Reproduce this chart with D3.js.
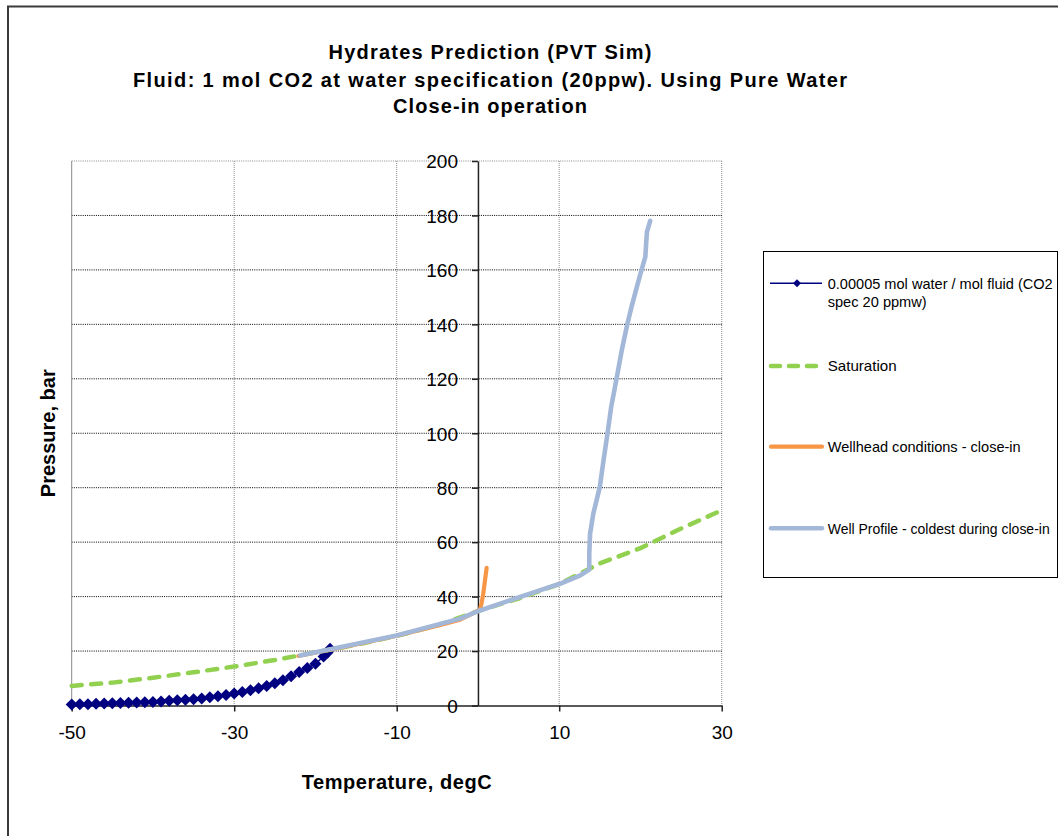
<!DOCTYPE html>
<html>
<head>
<meta charset="utf-8">
<script src="https://cdn.jsdelivr.net/npm/d3@7"></script>
<style>
  body { margin: 0; background: #fff; }
  svg { display: block; font-family: "Liberation Sans", Arial, sans-serif; }
</style>
</head>
<body>
<div class="graph"></div>
<script>
//Hydrate curve, 0.00005 mol water / mol fluid
const hydrateT = [-50, -49, -48, -47, -46, -45, -44, -43, -42, -41, -40, -39, -38, -37, -36, -35, -34, -33,
                  -32, -31, -30, -29, -28, -27, -26, -25, -24, -23, -22, -21, -20, -19, -18.5, -18.2];
const hydrateP = [0.4, 0.45, 0.5, 0.6, 0.7, 0.8, 0.9, 1.0, 1.1, 1.2, 1.3, 1.5, 1.7, 1.9, 2.1, 2.3, 2.6, 3.0,
                  3.4, 3.9, 4.4, 5.0, 5.6, 6.3, 7.2, 8.2, 9.3, 10.7, 12.3, 13.8, 15.3, 18.0, 19.5, 20.8];

//Saturation curve
const satT = [-50, -45, -40, -35, -30, -25, -20, -15, -10, -5, 0, 5, 10, 15, 20, 25, 30];
const satP = [7.2, 8.4, 10.2, 12.2, 14.3, 16.7, 19.5, 22.3, 25.6, 29.4, 34.7, 39.3, 44.6, 52.2, 57.8, 65.0, 71.7];

//Wellhead conditions - close-in
const wellheadT = [-22.1, -15, -10, -5, -2.2, -0.57, 0.25, 0.45, 0.65, 1.07];
const wellheadP = [18.2, 22.4, 25.6, 29.3, 31.5, 33.9, 35.2, 37.6, 41, 50.6];

//Well profile - coldest during close-in
const profileT = [-21.9, -10, -2.2, 0.25, 7.6, 10.1, 12.6, 13.7, 13.7, 13.8, 14.2, 15.0, 15.4, 16.0,
                  16.4, 17.1, 17.7, 18.4, 18.9, 19.9, 20.6, 20.7, 20.8, 21.2];
const profileP = [18.4, 25.7, 31.9, 34.9, 42.3, 44.7, 47.8, 49.9, 55.8, 63.1, 70.5, 80.3, 88.9, 101.1,
                  109.7, 120.7, 130.5, 140.3, 146.4, 157.5, 164.8, 169.7, 174, 178];

//Axis ticks
const xTicks = [-50, -30, -10, 10, 30];
const yTicks = [0, 20, 40, 60, 80, 100, 120, 140, 160, 180, 200];

const titleLines = ["Hydrates Prediction  (PVT Sim)",
                    "Fluid: 1 mol CO2 at water specification  (20ppw).  Using Pure Water",
                    "Close-in operation"];
const legendNames = ["0.00005 mol water / mol fluid (CO2", "Saturation",
                     "Wellhead conditions - close-in", "Well Profile - coldest during close-in"];

let WIDTH = 1058,
    HEIGHT = 836,
    LEFT = 71.7,
    RIGHT = 721.7,
    TOP = 161,
    BOTTOM = 705.5;

let svg = d3.select(".graph")
    .append("svg")
    .attr("width", WIDTH)
    .attr("height", HEIGHT);

svg.append("rect").attr("width", WIDTH).attr("height", HEIGHT).attr("fill", "#fff");

//Chart border (runs off the right and bottom of the picture)
svg.append("rect")
    .attr("x", 8).attr("y", 6.5)
    .attr("width", 1200).attr("height", 1000)
    .attr("fill", "none")
    .attr("stroke", "#3a3a3a")
    .attr("stroke-width", 2);

//Title
const titleW = [323, 714, 194];
const titleY = [59.3, 86.5, 113];
svg.selectAll(".title")
    .data(titleLines)
    .enter()
    .append("text")
    .attr("x", 490)
    .attr("y", (d, i) => titleY[i])
    .attr("text-anchor", "middle")
    .attr("font-size", 20)
    .attr("font-weight", "bold")
    .attr("textLength", (d, i) => titleW[i])
    .attr("lengthAdjust", "spacing")
    .text(d => d);

let xScale = d3.scaleLinear().domain([-50, 30]).range([LEFT, RIGHT]);
let yScale = d3.scaleLinear().domain([0, 200]).range([BOTTOM, TOP]);

//Gridlines
svg.append("g")
    .selectAll("line")
    .data(xTicks.slice(1))
    .enter()
    .append("line")
    .attr("x1", d => xScale(d)).attr("x2", d => xScale(d))
    .attr("y1", TOP).attr("y2", BOTTOM)
    .attr("stroke", "#8a8a8a")
    .attr("stroke-dasharray", "1,1");

svg.append("g")
    .selectAll("line")
    .data(yTicks.slice(1))
    .enter()
    .append("line")
    .attr("x1", LEFT).attr("x2", RIGHT)
    .attr("y1", d => yScale(d)).attr("y2", d => yScale(d))
    .attr("stroke", d => d === 200 ? "#8a8a8a" : "#000")
    .attr("stroke-dasharray", "1,1.2");

//left edge of plot area
svg.append("line")
    .attr("x1", LEFT).attr("x2", LEFT)
    .attr("y1", TOP).attr("y2", BOTTOM)
    .attr("stroke", "#8a8a8a");

//Axes
svg.append("g")
    .attr("transform", `translate(0, ${BOTTOM})`)
    .call(d3.axisBottom(xScale).tickValues(xTicks).tickFormat(d => String(d))
        .tickSize(6).tickPadding(14).tickSizeOuter(0))
    .call(g => {
        g.select(".domain").attr("stroke", "#222").attr("stroke-width", 1.5);
        g.selectAll(".tick line").attr("stroke", "#222").attr("stroke-width", 1.5);
        g.selectAll("text").attr("font-size", 19).attr("font-family", "Liberation Sans, Arial").attr("fill", "#000");
    });

svg.append("g")
    .attr("transform", `translate(${xScale(0)}, 0)`)
    .call(d3.axisLeft(yScale).tickValues(yTicks).tickFormat(d => String(d))
        .tickSize(6).tickPadding(14).tickSizeOuter(0))
    .call(g => {
        g.select(".domain").attr("stroke", "#222").attr("stroke-width", 1.5);
        g.selectAll(".tick line").attr("stroke", "#222").attr("stroke-width", 1.5);
        g.selectAll("text").attr("font-size", 19).attr("font-family", "Liberation Sans, Arial")
            .attr("fill", "#000").attr("dy", "0.36em");
    });

//Axis titles
svg.append("text")
    .attr("x", (LEFT + RIGHT) / 2)
    .attr("y", 789)
    .attr("text-anchor", "middle")
    .attr("font-size", 20)
    .attr("font-weight", "bold")
    .attr("textLength", 190)
    .text("Temperature, degC");

svg.append("text")
    .attr("transform", `translate(55, ${(TOP + BOTTOM) / 2}) rotate(-90)`)
    .attr("text-anchor", "middle")
    .attr("font-size", 20)
    .attr("font-weight", "bold")
    .text("Pressure, bar");

//Series
const toPoints = (ts, ps) => ts.map((t, i) => ({t: t, p: ps[i]}));
let line = d3.line().x(d => xScale(d.t)).y(d => yScale(d.p));
let diamond = d3.symbol().type(d3.symbolSquare).size(72);
let smallDiamond = d3.symbol().type(d3.symbolSquare).size(32);

let hydrate = toPoints(hydrateT, hydrateP);
svg.append("path")
    .datum(hydrate)
    .attr("d", line)
    .attr("fill", "none")
    .attr("stroke", "#000080")
    .attr("stroke-width", 1.5);

svg.selectAll(".diamond")
    .data(hydrate)
    .enter()
    .append("path")
    .attr("d", diamond)
    .attr("transform", d => `translate(${xScale(d.t)}, ${yScale(d.p)}) rotate(45)`)
    .attr("fill", "#000080");

svg.append("path")
    .datum(toPoints(satT, satP))
    .attr("d", line)
    .attr("fill", "none")
    .attr("stroke", "#92d050")
    .attr("stroke-width", 4.5)
    .attr("stroke-linecap", "round")
    .attr("stroke-dasharray", "10,9.5");

svg.append("path")
    .datum(toPoints(wellheadT, wellheadP))
    .attr("d", line)
    .attr("fill", "none")
    .attr("stroke", "#f79646")
    .attr("stroke-width", 4.2)
    .attr("stroke-linecap", "round")
    .attr("stroke-linejoin", "round");

svg.append("path")
    .datum(toPoints(profileT, profileP))
    .attr("d", line)
    .attr("fill", "none")
    .attr("stroke", "#a3b7d8")
    .attr("stroke-width", 4.6)
    .attr("stroke-linecap", "round")
    .attr("stroke-linejoin", "round");

//Legend
let legend = svg.append("g");
legend.append("rect")
    .attr("x", 763.5).attr("y", 251.5)
    .attr("width", 294).attr("height", 326)
    .attr("fill", "#fff")
    .attr("stroke", "#000");

const legendY = [283.3, 366, 446.7, 528.3];
const legendW = [225, 69, 193, 222];
legend.selectAll(".ltext")
    .data(legendNames)
    .enter()
    .append("text")
    .attr("x", 827.7)
    .attr("y", (d, i) => legendY[i])
    .attr("dy", "0.36em")
    .attr("font-size", 15)
    .attr("textLength", (d, i) => legendW[i])
    .attr("lengthAdjust", "spacingAndGlyphs")
    .text(d => d);

legend.append("text")
    .attr("x", 827.7)
    .attr("y", 301.7)
    .attr("dy", "0.36em")
    .attr("font-size", 15)
    .attr("textLength", 99)
    .attr("lengthAdjust", "spacingAndGlyphs")
    .text("spec 20 ppmw)");

legend.append("line")
    .attr("x1", 770).attr("x2", 822)
    .attr("y1", legendY[0]).attr("y2", legendY[0])
    .attr("stroke", "#000080").attr("stroke-width", 1.5);
legend.append("path")
    .attr("d", smallDiamond)
    .attr("transform", `translate(797, ${legendY[0]}) rotate(45)`)
    .attr("fill", "#000080");

legend.append("line")
    .attr("x1", 771).attr("x2", 818)
    .attr("y1", legendY[1]).attr("y2", legendY[1])
    .attr("stroke", "#92d050").attr("stroke-width", 4.5)
    .attr("stroke-linecap", "round")
    .attr("stroke-dasharray", "9,9");

legend.append("line")
    .attr("x1", 771).attr("x2", 822)
    .attr("y1", legendY[2]).attr("y2", legendY[2])
    .attr("stroke", "#f79646").attr("stroke-width", 4.2)
    .attr("stroke-linecap", "round");

legend.append("line")
    .attr("x1", 771).attr("x2", 822)
    .attr("y1", legendY[3]).attr("y2", legendY[3])
    .attr("stroke", "#a3b7d8").attr("stroke-width", 4.6)
    .attr("stroke-linecap", "round");
</script>
</body>
</html>
